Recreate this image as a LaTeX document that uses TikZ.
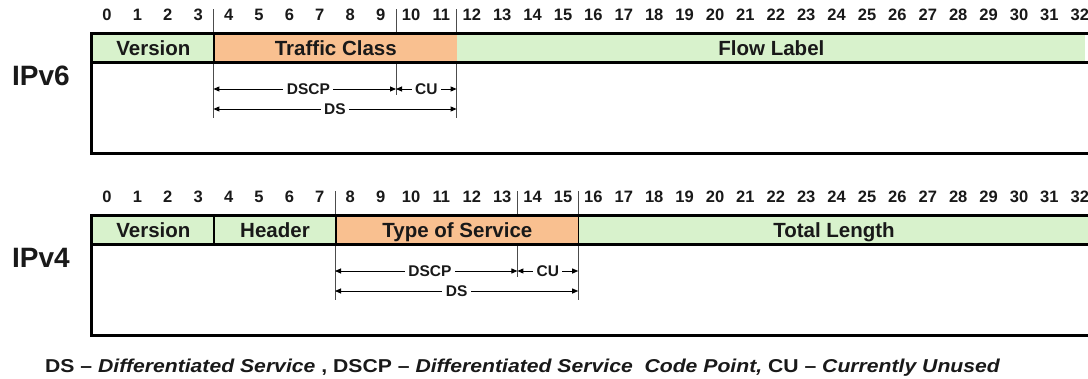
\documentclass[tikz,border=0pt]{standalone}
\usepackage{fontspec}
\setmainfont{Liberation Sans}
\usetikzlibrary{arrows.meta}
\definecolor{cgreen}{RGB}{216,242,204}
\definecolor{corange}{RGB}{249,192,144}
\definecolor{txt}{RGB}{25,25,25}
\tikzset{
  num/.style={font=\fontsize{16.5}{16.5}\selectfont\bfseries, text=txt, inner sep=0pt},
  cell/.style={draw=black, line width=1.6pt, anchor=north west, inner sep=0pt,
     minimum height=29pt, text height=14.7pt, text depth=0pt,
     font=\fontsize{20.5}{20.5}\selectfont\bfseries, text=txt},
  gcell/.style={cell, fill=cgreen},
  ocell/.style={cell, fill=corange},
  outer/.style={draw=black, line width=3pt},
  tick/.style={draw=black!70, line width=0.8pt},
  dim/.style={draw=black, line width=0.9pt, {Triangle[length=6pt,width=5pt]}-{Triangle[length=6pt,width=5pt]}},
  dimlab/.style={fill=white, inner sep=3.5pt, font=\fontsize{15.5}{15.5}\selectfont\bfseries, text=txt},
  proto/.style={font=\fontsize{28}{28}\selectfont\bfseries, text=txt},
}
\begin{document}
\begin{tikzpicture}[x=1pt,y=-1pt]
\useasboundingbox (0,0) rectangle (1088,378);
\clip (0,0) rectangle (1088,378);
\fill[white] (0,0) rectangle (1088,378);
% ---------------- IPv6 ----------------
\foreach \k in {0,...,32} \node[num] (n6-\k) at ({107+30.4*\k},15) {\k};
\node[proto] (ipv6) at (41,76) {IPv6};
\coordinate (t6a) at (213.4,9); \coordinate (t6b) at (396,9); \coordinate (t6c) at (456.6,9);
\draw[tick] (t6a) -- (213.4,118);
\draw[tick] (t6c) -- (456.6,118);
\draw[tick] (t6b) -- (396,33);
\draw[tick] (396,62) -- (396,95);
\node[gcell, minimum width=121.6pt] (v6ver) at (91.8,33) {Version};
\node[ocell, minimum width=243.2pt] (v6tc) at (213.4,33) {Traffic Class};
\node[gcell, draw=none, minimum width=628pt] (v6fl) at (456.6,33) {Flow Label};
\draw[outer] (91.8,33) rectangle (1110,153);
\draw[outer] (91.8,62) -- (1110,62);
\coordinate (d6a) at (213.4,89); \coordinate (d6b) at (396,89); \coordinate (d6c) at (456.6,89);
\coordinate (e6a) at (213.4,109); \coordinate (e6c) at (456.6,109);
\draw[dim] (d6a) -- node[dimlab, pos=0.52] (dscp6) {DSCP} (d6b);
\draw[dim] (d6b) -- node[dimlab] (cu6) {CU} (d6c);
\draw[dim] (e6a) -- node[dimlab] (ds6) {DS} (e6c);
% ---------------- IPv4 ----------------
\foreach \k in {0,...,32} \node[num] (n4-\k) at ({107+30.4*\k},197) {\k};
\node[proto] (ipv4) at (41,258) {IPv4};
\coordinate (t4a) at (335,191); \coordinate (t4b) at (517.4,191); \coordinate (t4c) at (578.2,191);
\draw[tick] (t4a) -- (335,300);
\draw[tick] (t4c) -- (578.2,300);
\draw[tick] (t4b) -- (517.4,215);
\draw[tick] (517.4,244) -- (517.4,277);
\node[gcell, minimum width=121.6pt] (v4ver) at (91.8,215) {Version};
\node[gcell, minimum width=121.6pt] (v4hdr) at (213.4,215) {Header};
\node[ocell, minimum width=243.2pt] (v4tos) at (335,215) {Type of Service};
\node[gcell, draw=none, minimum width=510pt] (v4tl) at (578.2,215) {Total Length};
\draw[outer] (91.8,215) rectangle (1110,335);
\draw[outer] (91.8,244) -- (1110,244);
\coordinate (d4a) at (335,271); \coordinate (d4b) at (517.4,271); \coordinate (d4c) at (578.2,271);
\coordinate (e4a) at (335,291); \coordinate (e4c) at (578.2,291);
\draw[dim] (d4a) -- node[dimlab, pos=0.52] (dscp4) {DSCP} (d4b);
\draw[dim] (d4b) -- node[dimlab] (cu4) {CU} (d4c);
\draw[dim] (e4a) -- node[dimlab] (ds4) {DS} (e4c);
% ---------------- footer ----------------
\node[anchor=base west, inner sep=0pt, text=txt] (foot) at (45,372)
  {\resizebox{955pt}{13.5pt}{\fontsize{18}{18}\selectfont\bfseries DS -- \textit{Differentiated Service} , DSCP -- \textit{Differentiated Service\ \ Code Point,} CU -- \textit{Currently Unused}}};
\end{tikzpicture}
\end{document}
